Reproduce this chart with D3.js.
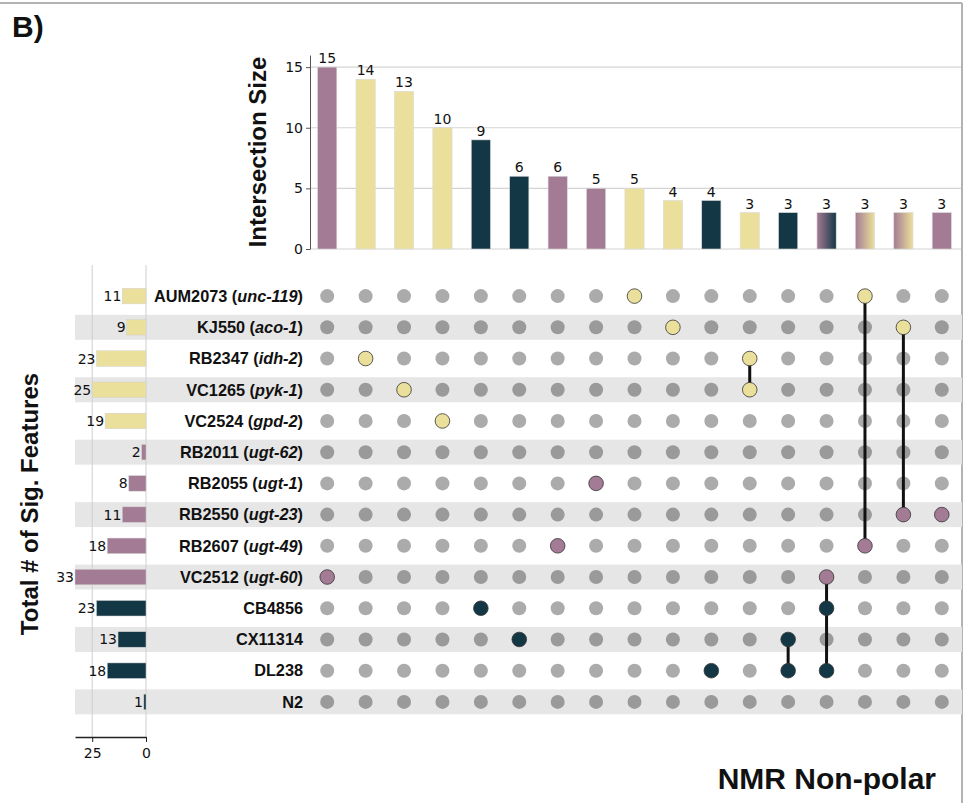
<!DOCTYPE html>
<html lang="en">
<head>
<meta charset="UTF-8">
<title>NMR Non-polar UpSet</title>
<script src="https://d3js.org/d3.v7.min.js"></script>
<style>
  html, body { margin: 0; padding: 0; background: #fff; }
  svg text { fill: #111; }
  .num { font-family: 'DejaVu Sans', sans-serif; font-size: 14px; }
  .lab { font-family: 'Liberation Sans', Arial, sans-serif; font-weight: bold; }
</style>
</head>
<body>
<div id="chart"></div>
<script>
  // sets (rows of the matrix), top to bottom
  const strains = ['AUM2073', 'KJ550', 'RB2347', 'VC1265', 'VC2524', 'RB2011', 'RB2055',
                   'RB2550', 'RB2607', 'VC2512', 'CB4856', 'CX11314', 'DL238', 'N2'];
  const genes = ['unc-119', 'aco-1', 'idh-2', 'pyk-1', 'gpd-2', 'ugt-62', 'ugt-1',
                 'ugt-23', 'ugt-49', 'ugt-60', null, null, null, null];
  const setSizes = [11, 9, 23, 25, 19, 2, 8, 11, 18, 33, 23, 13, 18, 1];
  const setGroups = ['tca', 'tca', 'tca', 'tca', 'tca', 'ugt', 'ugt', 'ugt', 'ugt', 'ugt',
                     'wild', 'wild', 'wild', 'wild'];

  // intersections (columns), left to right
  const intersections = [
    ['VC2512'], ['RB2347'], ['VC1265'], ['VC2524'], ['CB4856'], ['CX11314'],
    ['RB2607'], ['RB2055'], ['AUM2073'], ['KJ550'], ['DL238'],
    ['RB2347', 'VC1265'], ['CX11314', 'DL238'], ['VC2512', 'CB4856', 'DL238'],
    ['AUM2073', 'RB2607'], ['KJ550', 'RB2550'], ['RB2550']
  ];
  const intersectionSizes = [15, 14, 13, 10, 9, 6, 6, 5, 5, 4, 4, 3, 3, 3, 3, 3, 3];

  const sizeTicks = [0, 5, 10, 15];
  const setTicks = [25, 0];

  const groupColor = { tca: '#ebe09b', ugt: '#a47b94', wild: '#143745' };
  const gradientOrder = ['ugt', 'wild', 'tca'];

  const W = 964, H = 803;
  const svg = d3.select('#chart').append('svg')
    .attr('width', W).attr('height', H);

  const defs = svg.append('defs');

  // frame lines
  svg.append('line').attr('x1', 0).attr('x2', 962).attr('y1', 3).attr('y2', 3)
    .attr('stroke', '#b3b3b3').attr('stroke-width', 2);
  svg.append('line').attr('x1', 962).attr('x2', 962).attr('y1', 3).attr('y2', H)
    .attr('stroke', '#b3b3b3').attr('stroke-width', 2);

  // scales
  const x = d3.scaleBand().domain(d3.range(intersections.length))
    .range([308, 961]).paddingInner(0.5).paddingOuter(0.25);
  const ySize = d3.scaleLinear().domain([0, 16]).range([249, 55]);
  const row = d3.scaleBand().domain(strains).range([280.5, 717.5])
    .paddingInner(0.2).paddingOuter(0.1);
  const rowC = s => row(s) + row.bandwidth() / 2;
  const xSet = d3.scaleLinear().domain([0, 33]).range([146, 75]);

  // ---------- top: intersection size bars ----------
  const topG = svg.append('g');
  topG.append('g')
    .selectAll('line').data(sizeTicks).join('line')
    .attr('x1', 310).attr('x2', 961)
    .attr('y1', d => ySize(d)).attr('y2', d => ySize(d))
    .attr('stroke', '#d4d4d4').attr('stroke-width', 1.2);

  const yAxis = topG.append('g').attr('transform', 'translate(310,0)')
    .call(d3.axisLeft(ySize).tickValues(sizeTicks).tickSize(4).tickSizeOuter(0));
  yAxis.select('.domain').attr('stroke', '#555');
  yAxis.selectAll('.tick line').attr('stroke', '#555');
  yAxis.selectAll('text').attr('class', 'num').attr('fill', '#222');

  function barFill(i) {
    const groups = Array.from(new Set(intersections[i].map(s => setGroups[strains.indexOf(s)])));
    if (groups.length === 1) return groupColor[groups[0]];
    groups.sort((a, b) => gradientOrder.indexOf(a) - gradientOrder.indexOf(b));
    const id = 'grad' + i;
    const g = defs.append('linearGradient').attr('id', id)
      .attr('x1', '0%').attr('x2', '100%').attr('y1', '0%').attr('y2', '0%');
    groups.forEach((k, j) => {
      g.append('stop').attr('offset', (j / (groups.length - 1) * 100) + '%')
        .attr('stop-color', groupColor[k]);
    });
    return `url(#${id})`;
  }

  topG.append('g').selectAll('rect').data(intersectionSizes).join('rect')
    .attr('x', (d, i) => x(i)).attr('width', x.bandwidth())
    .attr('y', d => ySize(d)).attr('height', d => ySize(0) - ySize(d))
    .attr('fill', (d, i) => barFill(i))
    .attr('stroke', '#d9d9d9').attr('stroke-width', 0.6);

  topG.append('g').selectAll('text').data(intersectionSizes).join('text')
    .attr('class', 'num')
    .attr('x', (d, i) => x(i) + x.bandwidth() / 2)
    .attr('y', d => ySize(d) - 4)
    .attr('text-anchor', 'middle')
    .text(d => d);

  svg.append('text').attr('class', 'lab')
    .attr('transform', 'translate(266,152) rotate(-90)')
    .attr('text-anchor', 'middle').style('font-size', '24px')
    .text('Intersection Size');

  // ---------- shaded rows ----------
  svg.append('g').selectAll('rect')
    .data(strains.filter((s, i) => i % 2 === 1)).join('rect')
    .attr('x', 75).attr('width', 962 - 75)
    .attr('y', d => row(d)).attr('height', row.bandwidth())
    .attr('fill', '#e6e6e6');

  // ---------- left: set size bars ----------
  const leftG = svg.append('g');
  leftG.append('g').selectAll('line').data(setTicks).join('line')
    .attr('x1', d => xSet(d)).attr('x2', d => xSet(d))
    .attr('y1', 265).attr('y2', 737)
    .attr('stroke', '#cfcfcf').attr('stroke-width', 1);

  const barH = 15.5;
  leftG.append('g').selectAll('rect').data(strains).join('rect')
    .attr('x', (d, i) => xSet(setSizes[i]))
    .attr('width', (d, i) => xSet(0) - xSet(setSizes[i]))
    .attr('y', d => rowC(d) - barH / 2).attr('height', barH)
    .attr('fill', (d, i) => groupColor[setGroups[i]])
    .attr('stroke', '#d0d0d0').attr('stroke-width', 0.5);

  leftG.append('g').selectAll('text').data(strains).join('text')
    .attr('class', 'num')
    .attr('x', (d, i) => xSet(setSizes[i]) - 1)
    .attr('y', d => rowC(d) + 5)
    .attr('text-anchor', 'end')
    .text((d, i) => setSizes[i]);

  const xAxis = leftG.append('g').attr('transform', 'translate(0,737)')
    .call(d3.axisBottom(xSet).tickValues(setTicks).tickSize(5).tickSizeOuter(0));
  xAxis.select('.domain').attr('stroke', '#222').attr('stroke-width', 1.3);
  xAxis.selectAll('.tick line').attr('stroke', '#222');
  xAxis.selectAll('text').attr('class', 'num').attr('fill', '#222').attr('dy', '0.9em');

  svg.append('text').attr('class', 'lab')
    .attr('transform', 'translate(38,504) rotate(-90)')
    .attr('text-anchor', 'middle').style('font-size', '24px')
    .text('Total # of Sig. Features');

  // row labels
  const labels = svg.append('g').selectAll('text').data(strains).join('text')
    .attr('class', 'lab').style('font-size', '16.3px')
    .attr('x', 303).attr('y', d => rowC(d) + 5.8)
    .attr('text-anchor', 'end');
  labels.each(function (d, i) {
    const t = d3.select(this);
    if (genes[i]) {
      t.append('tspan').text(d + ' (');
      t.append('tspan').style('font-style', 'italic').text(genes[i]);
      t.append('tspan').text(')');
    } else {
      t.text(d);
    }
  });

  // ---------- matrix ----------
  const matrix = svg.append('g');
  const cells = [];
  intersections.forEach((sets, i) => {
    strains.forEach(s => cells.push({ col: i, set: s, on: sets.includes(s) }));
  });

  matrix.append('g').selectAll('circle').data(cells.filter(c => !c.on)).join('circle')
    .attr('cx', d => x(d.col) + x.bandwidth() / 2)
    .attr('cy', d => rowC(d.set))
    .attr('r', 7)
    .attr('fill', '#000').attr('fill-opacity', 0.33);

  matrix.append('g').selectAll('line').data(intersections.map((s, i) => ({ s, i })).filter(d => d.s.length > 1))
    .join('line')
    .attr('x1', d => x(d.i) + x.bandwidth() / 2).attr('x2', d => x(d.i) + x.bandwidth() / 2)
    .attr('y1', d => d3.min(d.s, rowC)).attr('y2', d => d3.max(d.s, rowC))
    .attr('stroke', '#111').attr('stroke-width', 3);

  matrix.append('g').selectAll('circle').data(cells.filter(c => c.on)).join('circle')
    .attr('cx', d => x(d.col) + x.bandwidth() / 2)
    .attr('cy', d => rowC(d.set))
    .attr('r', 7.3)
    .attr('fill', d => groupColor[setGroups[strains.indexOf(d.set)]])
    .attr('stroke', '#333').attr('stroke-width', 0.8);

  // captions
  svg.append('text').attr('class', 'lab').style('font-size', '30px')
    .attr('x', 12).attr('y', 37).text('B)');
  svg.append('text').attr('class', 'lab').style('font-size', '30px')
    .attr('x', 936).attr('y', 789).attr('text-anchor', 'end').text('NMR Non-polar');
</script>
</body>
</html>
